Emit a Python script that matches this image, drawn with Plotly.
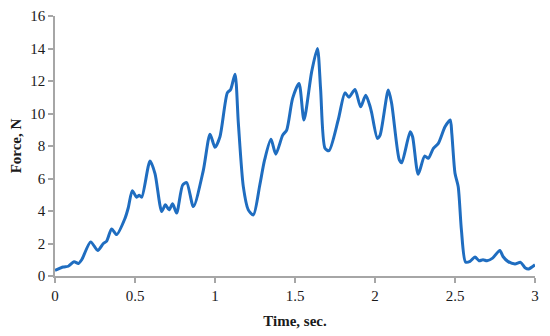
import plotly.graph_objects as go

time_s = [0, 0.052, 0.083, 0.119, 0.146, 0.167, 0.223, 0.267, 0.302, 0.323, 0.354, 0.385,
          0.4375, 0.458, 0.483, 0.51, 0.527, 0.542, 0.594, 0.625, 0.667, 0.69, 0.7125, 0.735,
          0.76, 0.798, 0.823, 0.865, 0.927, 0.969, 1.0, 1.031, 1.077, 1.098, 1.125, 1.146,
          1.177, 1.208, 1.24, 1.28, 1.31, 1.35, 1.38, 1.423, 1.448, 1.485, 1.525, 1.556,
          1.604, 1.64, 1.66, 1.6875, 1.7125, 1.77, 1.8125, 1.8375, 1.875, 1.91, 1.942, 1.97,
          1.98, 2.015, 2.032, 2.083, 2.104, 2.152, 2.167, 2.22, 2.235, 2.27, 2.31, 2.333,
          2.365, 2.396, 2.4375, 2.47, 2.48, 2.5, 2.52, 2.54, 2.566, 2.594, 2.625, 2.65,
          2.675, 2.70, 2.735, 2.78, 2.8, 2.83, 2.875, 2.91, 2.94, 2.96, 3.0]
force_n = [0.35, 0.55, 0.6, 0.88, 0.77, 1.0, 2.1, 1.57, 2.0, 2.15, 2.9, 2.55,
           3.55, 4.2, 5.25, 4.85, 4.97, 4.85, 7.08, 6.3, 3.97, 4.38, 4.07, 4.44,
           3.87, 5.6, 5.75, 4.27, 6.5, 8.73, 7.92, 8.57, 11.27, 11.48, 12.42, 9.39,
           5.5, 4.07, 3.76, 5.6, 7.14, 8.41, 7.5, 8.67, 8.98, 10.93, 11.85, 9.6,
           12.56, 14.0, 11.5, 7.86, 7.71, 9.6, 11.27, 11.0, 11.48, 10.41, 11.13, 10.41,
           10.0, 8.47, 8.67, 11.44, 10.62, 7.14, 6.97, 8.88, 8.57, 6.26, 7.38, 7.24,
           7.86, 8.16, 9.18, 9.6, 8.78, 6.32, 5.5, 2.84, 0.86, 0.9, 1.17, 0.94,
           1.0, 0.94, 1.1, 1.57, 1.2, 0.9, 0.74, 0.84, 0.49, 0.43, 0.69]

x_ticks = [0, 0.5, 1, 1.5, 2, 2.5, 3]
x_tick_labels = ["0", "0.5", "1", "1.5", "2", "2.5", "3"]
y_ticks = [0, 2, 4, 6, 8, 10, 12, 14, 16]

font_family = "Liberation Serif, DejaVu Serif, serif"
text_color = "#1a1a1a"

fig = go.Figure()
fig.add_trace(go.Scatter(
    x=time_s, y=force_n, mode="lines",
    line=dict(color="#1f6dc0", width=3, shape="spline", smoothing=0.7),
    showlegend=False, hoverinfo="skip",
))

fig.update_layout(
    width=542, height=328,
    margin=dict(l=47, r=15, t=8, b=60),
    paper_bgcolor="white", plot_bgcolor="white",
    font=dict(family=font_family, size=15, color=text_color),
)
fig.update_xaxes(
    range=[0, 3], tickvals=x_ticks, ticktext=x_tick_labels,
    automargin=False,
    showgrid=False, zeroline=False,
    showline=True, linecolor="#a6a6a6", linewidth=1.5,
    ticks="outside", ticklen=5, tickcolor="#a6a6a6", tickwidth=1.5,
    tickfont=dict(family=font_family, size=15, color=text_color),
    title=dict(text="<b>Time, sec.</b>", font=dict(family=font_family, size=15, color=text_color), standoff=13),
)
fig.update_yaxes(
    range=[0, 16], tickvals=y_ticks,
    automargin=False,
    showgrid=False, zeroline=False,
    showline=True, linecolor="#a6a6a6", linewidth=1.5,
    ticks="outside", ticklen=5, tickcolor="#a6a6a6", tickwidth=1.5,
    tickfont=dict(family=font_family, size=15, color=text_color),
    title=dict(text="<b>Force, N</b>", font=dict(family=font_family, size=15, color=text_color), standoff=10),
)

fig.write_html("out.html")
